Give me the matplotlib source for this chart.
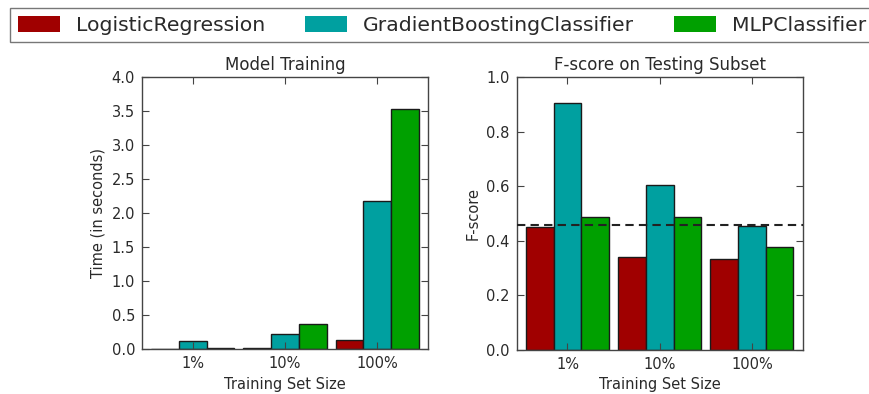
import matplotlib
matplotlib.use("Agg")
import matplotlib.pyplot as plt
import matplotlib.patches as mpatches

plt.rcParams["font.family"] = ["DejaVu Sans"]

# Learners and their results per training-set size
learners = ["LogisticRegression", "GradientBoostingClassifier", "MLPClassifier"]
sizes = ["1%", "10%", "100%"]
colors = ["#A00000", "#00A0A0", "#00A000"]

train_time = {
    "LogisticRegression": [0.003, 0.010, 0.13],
    "GradientBoostingClassifier": [0.12, 0.22, 2.17],
    "MLPClassifier": [0.015, 0.37, 3.52],
}
f_score = {
    "LogisticRegression": [0.452, 0.342, 0.334],
    "GradientBoostingClassifier": [0.905, 0.604, 0.456],
    "MLPClassifier": [0.486, 0.486, 0.378],
}
naive_f_score = 0.459

bar_width = 0.3
text_color = "#2a2a2a"

fig = plt.figure(figsize=(8.69, 3.94), dpi=100)
ax_time = fig.add_axes([0.1634, 0.1142, 0.3291, 0.6911])
ax_f = fig.add_axes([0.5946, 0.1117, 0.3291, 0.6929])

for ax, metric, title, ylabel, ylim, yticks in [
    (ax_time, train_time, "Model Training", "Time (in seconds)", (0, 4.0),
     [0, 0.5, 1.0, 1.5, 2.0, 2.5, 3.0, 3.5, 4.0]),
    (ax_f, f_score, "F-score on Testing Subset", "F-score", (0, 1.0),
     [0, 0.2, 0.4, 0.6, 0.8, 1.0]),
]:
    for k, learner in enumerate(learners):
        for i in range(len(sizes)):
            ax.bar(i + k * bar_width, metric[learner][i], width=bar_width,
                   color=colors[k], edgecolor="#1a1a1a", linewidth=1.0, align="edge")
    ax.set_xlim(-0.1, 3.0)
    ax.set_ylim(*ylim)
    ax.set_yticks(yticks)
    ax.set_yticklabels(["%.1f" % t for t in yticks])
    ax.set_xticks([0.45, 1.45, 2.45])
    ax.set_xticklabels(sizes)
    ax.set_title(title, fontsize=12, color=text_color, pad=5)
    ax.set_ylabel(ylabel, fontsize=10.5, color=text_color)
    ax.set_xlabel("Training Set Size", fontsize=10.5, color=text_color)
    ax.tick_params(direction="in", top=True, right=True, length=5, width=0.8,
                   labelsize=10.5, labelcolor=text_color, colors="#444444", pad=5)
    for spine in ax.spines.values():
        spine.set_color("#444444")
        spine.set_linewidth(1.0)

ax_f.axhline(y=naive_f_score, xmin=0, xmax=1, linewidth=1.5, color="#222222",
             linestyle=(0, (4.0, 2.5)), zorder=3)

patches = [mpatches.Patch(facecolor=c, edgecolor="none", label=l)
           for c, l in zip(colors, learners)]
leg = fig.legend(handles=patches, loc="upper left",
                 bbox_to_anchor=(10 / 869, 1 - 8.3 / 394),
                 bbox_transform=fig.transFigure, borderaxespad=0.0, ncol=3,
                 fontsize=14.7, fancybox=False, handlelength=2.07,
                 handleheight=0.8, columnspacing=1.95, handletextpad=0.77,
                 borderpad=0.37)
leg.get_frame().set_edgecolor("#555555")
leg.get_frame().set_linewidth(1.0)
for t in leg.get_texts():
    t.set_color(text_color)

fig.savefig("out.png", dpi=100)
